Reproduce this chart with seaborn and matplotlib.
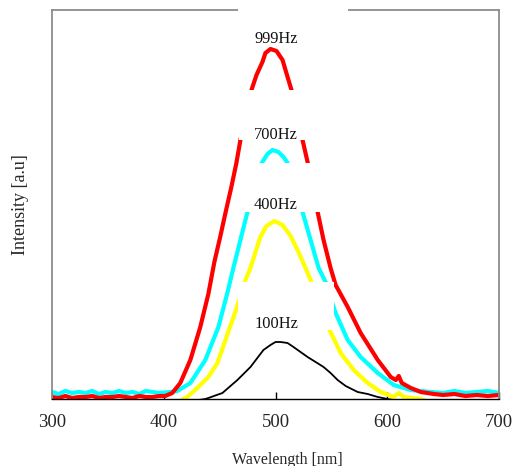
import matplotlib
matplotlib.use("Agg")
import matplotlib.pyplot as plt
from matplotlib.patches import Rectangle
import seaborn as sns
import pandas as pd

# ---------------- data ----------------
red_nm = [300, 306, 312, 318, 324, 330, 336, 342, 348, 354, 360, 366, 372, 378, 384, 390, 396,
          401.3, 407.6, 414.8, 423.8, 432.7, 439.9, 445.3, 450.7, 455.2, 460.5,
          465.0, 468.6, 473.1, 478.5, 483.0, 488.3, 491.0, 495.5, 500.9, 506.3,
          510.8, 514.3, 519.7, 524.2, 528.7, 533.2, 537.7, 543.0, 549.3, 553.8,
          564.6, 576.2, 591.5, 603.1, 607.6, 610.3, 613.0, 621.1, 630, 641.7,
          650, 660, 670, 680, 690, 700]
red_val = [2, 1, 3, 1, 2, 2, 3, 1, 2, 2, 3, 2, 1, 3, 2, 2, 3,
           3, 6, 16, 39, 72, 105, 137, 163, 186, 212,
           236, 259, 284, 309, 324, 337, 346, 350, 348, 339,
           322, 309, 284, 259, 237, 211, 187, 159, 131, 114,
           92, 66, 39, 22, 19, 23, 16, 11, 7, 5,
           4, 5, 3, 4, 3, 4]

cyan_nm = [300, 306, 312, 318, 324, 330, 336, 342, 348, 354, 360, 366, 372, 378, 384, 390, 396,
           405.8, 412.1, 423.8, 437.2, 448.9, 456.9, 462.3, 468.6, 474.9, 479.4,
           483.9, 488.3, 492.8, 497.3, 502.6, 507.2, 510.8, 515.3, 519.7, 524.2,
           531.4, 538.6, 544.8, 549.3, 553.8, 564.6, 576.2, 591.5, 605.8, 621.1,
           630, 639, 650, 660, 670, 680, 690, 700]
cyan_val = [7, 5, 8, 6, 7, 6, 8, 5, 7, 6, 8, 6, 7, 5, 8, 7, 6,
            7, 8, 16, 39, 72, 106, 131, 159, 187, 209,
            229, 237, 245, 249, 247, 242, 236, 219, 204, 187,
            159, 131, 117, 101, 86, 59, 42, 26, 14, 9,
            8, 7, 6, 8, 6, 7, 8, 6]

yellow_nm = [412, 417.5, 421.1, 430.0, 439.9, 448.0, 454.3, 459.6, 466.8, 473.1,
             477.6, 482.1, 486.5, 491.9, 499.1, 506.3, 513.5, 519.7, 526.9, 531.4,
             548.4, 558.3, 570.0, 582.5, 594.2, 605.8, 610.3, 614.8, 630, 640]
yellow_val = [-4, 0, 2, 11, 22, 36, 56, 73, 96, 119,
              131, 147, 162, 173, 178, 174, 163, 149, 131, 119,
              69, 46, 29, 16, 7, 2, 6, 2, 0, -4]

black_nm = [420, 437.2, 439.9, 452.5, 465.9, 477.6, 489.2, 495.5, 500, 504.5, 510.8,
            516.1, 528.7, 535.9, 543, 549.3, 555.6, 562.8, 573.5, 582.5, 591.5, 600.4, 615]
black_val = [-3, 0, 1, 6, 19, 32, 49, 54, 57, 57, 56,
             52, 42, 37, 32, 26, 19, 13, 7, 5, 2, 0, -3]

labels = ["999Hz", "700Hz", "400Hz", "100Hz"]
label_y = [356, 260.5, 190, 71.5]
label_x = 500.5
xticks = [300, 400, 500, 600, 700]

# ---------------- plotting ----------------
sns.set_style("white")
plt.rcParams["font.family"] = ["Liberation Serif", "DejaVu Serif"]

fig = plt.figure(figsize=(5.14, 4.66), dpi=100)
ax = fig.add_axes([52 / 514, 1 - 399 / 466, 447 / 514, 389 / 466])

series = [
    (cyan_nm, cyan_val, "#00FFFF", 3.0),
    (yellow_nm, yellow_val, "#FFFF00", 3.0),
    (red_nm, red_val, "#FF0000", 3.0),
    (black_nm, black_val, "#000000", 1.3),
]
for nm, val, col, lw in series:
    df = pd.DataFrame({"nm": nm, "v": val})
    sns.lineplot(data=df, x="nm", y="v", ax=ax, color=col, linewidth=lw,
                 sort=False, estimator=None, zorder=2)

ax.set_xlim(300, 700)
ax.set_ylim(0, 389)
ax.set_xticks(xticks)
ax.set_xticklabels([str(t) for t in xticks], fontsize=13.5)
ax.set_yticks([])
ax.tick_params(axis="x", direction="in", length=5, width=1, color="black",
               pad=11, bottom=True)

for s in ["left", "top", "right"]:
    ax.spines[s].set_color("#8c8c8c")
    ax.spines[s].set_linewidth(1.3)
ax.spines["bottom"].set_color("black")
ax.spines["bottom"].set_linewidth(1.0)

ax.set_xlabel("Wavelength [nm]", fontsize=11.5)
ax.xaxis.set_label_coords(0.527, -0.136)
ax.set_ylabel("Intensity [a.u]", fontsize=13)
ax.yaxis.set_label_coords(-0.052, 0.5)

# white label boxes (axes fraction)
boxes = [
    (0.416, 0.905, 0.246, 0.14),
    (0.418, 0.666, 0.237, 0.128),
    (0.423, 0.481, 0.232, 0.126),
    (0.416, 0.177, 0.215, 0.124),
]
for (x0, y0, w, h) in boxes:
    ax.add_patch(Rectangle((x0, y0), w, h, transform=ax.transAxes,
                           facecolor="white", edgecolor="none",
                           zorder=3, clip_on=False))

for lab, ly in zip(labels, label_y):
    ax.text(label_x, ly, lab, ha="center", va="baseline", fontsize=11.8,
            color="#111111", zorder=5)

fig.savefig("out.png", dpi=100)
